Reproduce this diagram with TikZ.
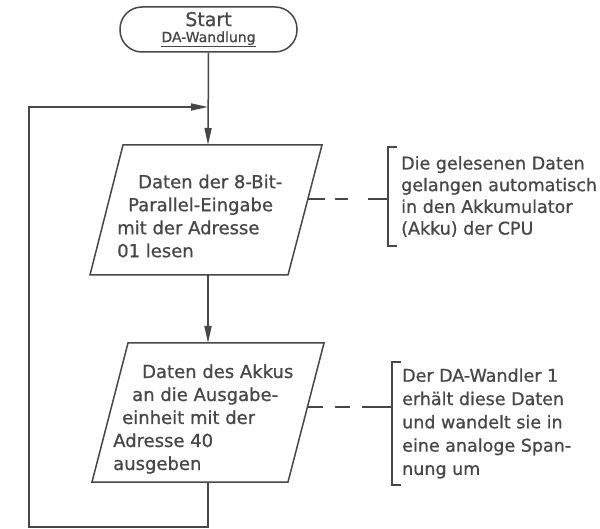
\documentclass[tikz,border=0pt]{standalone}
\usepackage{fontspec}
\setmainfont{DejaVu Sans}[FakeBold=0.8]
\usetikzlibrary{arrows.meta}
\definecolor{ink}{HTML}{474747}
\begin{document}
\begin{tikzpicture}[x=1pt,y=-1pt,
  every node/.style={inner sep=0pt, text=ink},
  link/.style={draw=ink, line width=1.5pt},
  arr/.style={link, -{Triangle[length=17pt,width=7pt]}},
  boxtxt/.style={align=left, anchor=west, font=\fontsize{18}{23}\selectfont},
  note/.style={align=left, anchor=west},
  bracket/.style={link}]
\useasboundingbox (0,0) rectangle (600,529);
\fill[white] (0,0) rectangle (600,529);

% start terminator
\node[draw=ink, line width=1.5pt, rounded corners=22pt, minimum width=177pt, minimum height=45pt,
      align=center, font=\fontsize{19}{17}\selectfont] (start) at (208.5,29.5)
  {\raisebox{-2pt}{Start}\\[1pt]{\fontsize{14}{14}\selectfont\underline{DA-Wandlung}}};

% box 1 (parallelogram)
\draw[link] (123,145) -- (322,145) -- (288,275) -- (90,275) -- cycle;
\coordinate (b1in) at (208,145);
\coordinate (b1out) at (208,275);
\coordinate (b1r) at (308,199);
\node[boxtxt] (t1) at (117,216)
  {\hspace*{21pt}Daten der 8-Bit-\\\hspace*{11pt}Parallel-Eingabe\\mit der Adresse\\01 lesen};

% box 2 (parallelogram)
\draw[link] (128,343) -- (324,343) -- (288,482) -- (92,482) -- cycle;
\coordinate (b2in) at (208,343);
\coordinate (b2out) at (208,482);
\coordinate (b2r) at (307,407);
\node[boxtxt] (t2) at (113,419)
  {\hspace*{29pt}Daten des Akkus\\\hspace*{19pt}an die Ausgabe-\\\hspace*{9pt}einheit mit der\\Adresse 40\\ausgeben};

% notes
\node[note, inner xsep=13pt, minimum height=99pt, font=\fontsize{17.5}{21.7}\selectfont] (n1) at (388,196.5)
  {Die gelesenen Daten\\gelangen automatisch\\in den Akkumulator\\(Akku) der CPU};
\draw[bracket] ([xshift=9pt]n1.north west) -- (n1.north west) -- (n1.south west) -- ([xshift=9pt]n1.south west);

\node[note, inner xsep=10pt, minimum height=123pt, font=\fontsize{17.5}{23.3}\selectfont] (n2) at (392,423.5)
  {Der DA-Wandler 1\\erhält diese Daten\\und wandelt sie in\\eine analoge Span-\\nung um};
\draw[bracket] ([xshift=9pt]n2.north west) -- (n2.north west) -- (n2.south west) -- ([xshift=9pt]n2.south west);

% connectors
\coordinate (merge) at (208,107);
\coordinate (lt) at (29,107);
\coordinate (lb) at (29,527);
\draw[arr] (start.south) -- (b1in);
\draw[arr] (b1out) -- (b2in);
\draw[arr] (b2out) |- (lb) -- (lt) -- (merge);
\draw[link, dash pattern=on 17pt off 10pt on 13pt off 20pt on 20pt off 0pt] (b1r) -- (b1r -| n1.west);
\draw[link, dash pattern=on 16pt off 12pt on 15pt off 12pt on 30pt off 0pt] (b2r) -- (b2r -| n2.west);
\end{tikzpicture}
\end{document}
